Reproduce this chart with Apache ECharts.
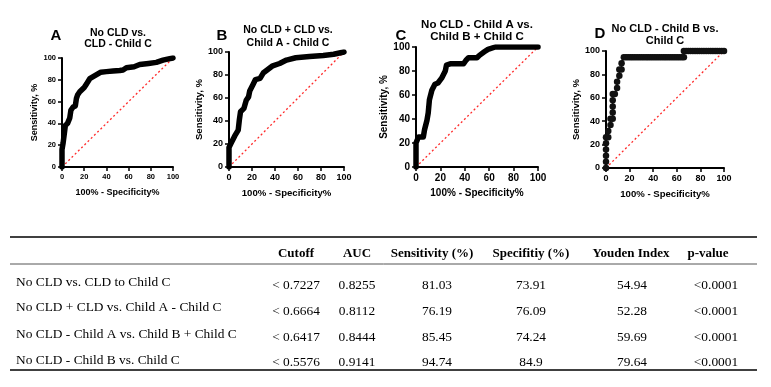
<!DOCTYPE html>
<html>
<head>
<meta charset="utf-8">
<script src="https://cdn.jsdelivr.net/npm/echarts@6/dist/echarts.min.js"></script>
<style>
html, body { margin: 0; padding: 0; background: #fff; }
#main { width: 771px; height: 387px; }
</style>
</head>
<body>
<div id="main"></div>
<script>
// ROC curves, x = 100% - specificity, y = sensitivity
var rocAx = [0, 0, 1, 2, 3, 5, 7, 8, 10, 12, 13, 14, 16, 20, 22, 25, 30, 35, 40, 46, 52, 55, 58, 65, 70, 78, 85, 91, 95, 100];
var rocAy = [0, 16, 22, 30, 38, 40, 45, 52, 55, 56, 63, 66, 69, 73, 76, 81, 84, 87, 87.5, 88, 88.5, 89, 91, 92, 94, 95, 96, 98, 99, 100];

var rocBx = [0, 0, 2, 5, 8, 9, 10, 13, 15, 17, 18, 21, 23, 27, 30, 34, 38, 44, 50, 58, 70, 82, 91, 100];
var rocBy = [0, 17, 21, 27, 32, 41, 48, 51, 58, 61, 66, 72, 76, 77, 82, 85, 88, 90, 93, 95, 96, 97, 98, 100];

var rocCx = [0, 0, 2, 6, 7, 9, 10, 11, 12, 13, 15.5, 18, 21, 24, 25, 28, 39, 41, 43, 50, 52, 56, 59, 65, 100];
var rocCy = [0, 20, 25, 25, 31, 39, 45, 56, 60, 64, 69, 70, 74, 80, 85, 86, 86, 89, 91, 91, 93, 96, 98, 100, 100];

var rocDx = [0, 0, 0, 0, 0, 0, 1.9, 1.9, 3.8, 3.8, 5.7, 5.7, 5.7, 5.7, 5.7, 7.5, 9.4, 9.4, 11.3, 11.3, 13.2, 13.2, 15.1,
  17.0, 18.9, 20.8, 22.6, 24.5, 26.4, 28.3, 30.2, 32.1, 34.0, 35.8, 37.7, 39.6, 41.5, 43.4, 45.3, 47.2, 49.1, 50.9,
  52.8, 54.7, 56.6, 58.5, 60.4, 62.3, 64.2, 66.0,
  66.0, 67.9, 69.8, 71.7, 73.6, 75.5, 77.4, 79.2, 81.1, 83.0, 84.9, 86.8, 88.7, 90.6, 92.5, 94.3, 96.2, 98.1, 100];
var rocDy = [0, 5.3, 10.5, 15.8, 21.1, 26.3, 26.3, 31.6, 36.8, 42.1, 42.1, 47.4, 52.6, 57.9, 63.2, 63.2, 68.4, 73.7, 78.9, 84.2, 84.2, 89.5, 94.7,
  94.7, 94.7, 94.7, 94.7, 94.7, 94.7, 94.7, 94.7, 94.7, 94.7, 94.7, 94.7, 94.7, 94.7, 94.7, 94.7, 94.7, 94.7, 94.7,
  94.7, 94.7, 94.7, 94.7, 94.7, 94.7, 94.7, 94.7,
  100, 100, 100, 100, 100, 100, 100, 100, 100, 100, 100, 100, 100, 100, 100, 100, 100, 100, 100];

var chanceX = [0, 100];
var chanceY = [0, 100];

var panelLetters = ['A', 'B', 'C', 'D'];
var panelTitles = ['No CLD vs.\nCLD - Child C', 'No CLD + CLD vs.\nChild A - Child C', 'No CLD - Child A vs.\nChild B + Child C', 'No CLD - Child B vs.\nChild C'];
var xName = '100% - Specificity%';
var yName = 'Sensitivity, %';

// table
var colHeaders = ['Cutoff', 'AUC', 'Sensitivity (%)', 'Specifitiy (%)', 'Youden Index', 'p-value'];
var rowLabels = ['No CLD vs. CLD to Child C', 'No CLD + CLD vs. Child A - Child C', 'No CLD - Child A vs. Child B + Child C', 'No CLD - Child B vs. Child C'];
var cutoffs = ['< 0.7227', '< 0.6664', '< 0.6417', '< 0.5576'];
var aucs = ['0.8255', '0.8112', '0.8444', '0.9141'];
var sens = ['81.03', '76.19', '85.45', '94.74'];
var spec = ['73.91', '76.09', '74.24', '84.9'];
var youden = ['54.94', '52.28', '59.69', '79.64'];
var pvals = ['<0.0001', '<0.0001', '<0.0001', '<0.0001'];

var rocs = [[rocAx, rocAy], [rocBx, rocBy], [rocCx, rocCy], [rocDx, rocDy]];

function zip(a, b) {
  return a.map(function (v, i) { return [v, b[i]]; });
}

var chart = echarts.init(document.getElementById('main'));

var box = [
  { left: 62, top: 58, w: 111, h: 109, tick: 7.5, name: 9, title: 10.5, lh: 11, tx: 118, ty: 28, lx: 56, ly: 28 },
  { left: 229, top: 52, w: 115, h: 115, tick: 9, name: 9.6, title: 10.5, lh: 13, tx: 288, ty: 24, lx: 222, ly: 28 },
  { left: 416, top: 47, w: 122, h: 120, tick: 10, name: 10, title: 11.5, lh: 12, tx: 477, ty: 19, lx: 401, ly: 28 },
  { left: 606, top: 51, w: 118, h: 117, tick: 9, name: 9.6, title: 11, lh: 12, tx: 665, ty: 22.5, lx: 600, ly: 26 }
];

var font = 'Liberation Sans, Arial, sans-serif';
var serif = 'Liberation Serif, Times New Roman, serif';

var grids = [], xAxes = [], yAxes = [], series = [], titles = [];

box.forEach(function (b, i) {
  grids.push({ left: b.left, top: b.top, width: b.w, height: b.h, containLabel: false });
  var axisCommon = {
    gridIndex: i, type: 'value', min: 0, max: 100, interval: 20,
    splitLine: { show: false },
    axisLine: { show: true, onZero: false, lineStyle: { color: '#000', width: 2 } },
    axisTick: { show: true, length: 4, lineStyle: { color: '#000', width: 1.5 } },
    axisLabel: { color: '#000', fontWeight: 'bold', fontSize: b.tick, fontFamily: font, margin: 6 },
    nameLocation: 'middle',
    nameTextStyle: { color: '#000', fontWeight: 'bold', fontSize: b.name, fontFamily: font }
  };
  xAxes.push(Object.assign({}, axisCommon, { name: xName, nameGap: 21 }));
  yAxes.push(Object.assign({}, axisCommon, { name: yName, nameGap: 23, nameRotate: 90 }));

  series.push({
    type: 'line', xAxisIndex: i, yAxisIndex: i, data: zip(chanceX, chanceY),
    showSymbol: false, silent: true, z: 1,
    lineStyle: { color: '#ff2a2a', width: 1.3, type: [2, 2.5] }
  });
  if (i < 3) {
    series.push({
      type: 'line', xAxisIndex: i, yAxisIndex: i, data: zip(rocs[i][0], rocs[i][1]),
      showSymbol: false, z: 3,
      lineStyle: { color: '#000', width: 5.5, join: 'round', cap: 'round' }
    });
  } else {
    series.push({
      type: 'line', xAxisIndex: i, yAxisIndex: i, data: zip(rocs[i][0], rocs[i][1]),
      symbol: 'circle', symbolSize: 6.5, showAllSymbol: true, z: 3,
      itemStyle: { color: '#111' },
      lineStyle: { color: '#000', width: 1.5 }
    });
  }

  titles.push({
    text: panelTitles[i], left: b.tx, top: b.ty, textAlign: 'center', padding: 0,
    textStyle: { fontSize: b.title, fontWeight: 'bold', fontFamily: font, color: '#000', lineHeight: b.lh }
  });
  titles.push({
    text: panelLetters[i], left: b.lx, top: b.ly, textAlign: 'center', padding: 0,
    textStyle: { fontSize: 15, fontWeight: 'bold', fontFamily: font, color: '#000' }
  });
});

// table drawn with graphic elements
var graphics = [];
var tblL = 10, tblR = 757;
[237, 264, 370].forEach(function (y, k) {
  graphics.push({
    type: 'line', shape: { x1: tblL, y1: y, x2: tblR, y2: y },
    style: { stroke: k === 1 ? '#555' : '#000', lineWidth: k === 1 ? 1 : 1.5 }
  });
});
var headX = [296, 357, 432, 531, 631, 708];
var valX = [296, 357, 437, 531, 632, 716];
colHeaders.forEach(function (h, j) {
  graphics.push({
    type: 'text', x: headX[j], y: 254,
    style: { text: h, fill: '#000', font: 'bold 13px ' + serif, textAlign: 'center', textVerticalAlign: 'middle' }
  });
});
var labelY = [282, 307, 334, 360];
var valY = [285, 311, 337, 362];
var cols = [cutoffs, aucs, sens, spec, youden, pvals];
rowLabels.forEach(function (r, k) {
  graphics.push({
    type: 'text', x: 16, y: labelY[k],
    style: { text: r, fill: '#000', font: '13.4px ' + serif, textAlign: 'left', textVerticalAlign: 'middle' }
  });
  cols.forEach(function (c, j) {
    graphics.push({
      type: 'text', x: valX[j], y: valY[k],
      style: { text: c[k], fill: '#000', font: '13.4px ' + serif, textAlign: 'center', textVerticalAlign: 'middle' }
    });
  });
});

var option = {
  animation: false,
  backgroundColor: '#fff',
  title: titles,
  grid: grids,
  xAxis: xAxes,
  yAxis: yAxes,
  series: series,
  graphic: graphics
};
chart.setOption(option);
</script>
</body>
</html>
